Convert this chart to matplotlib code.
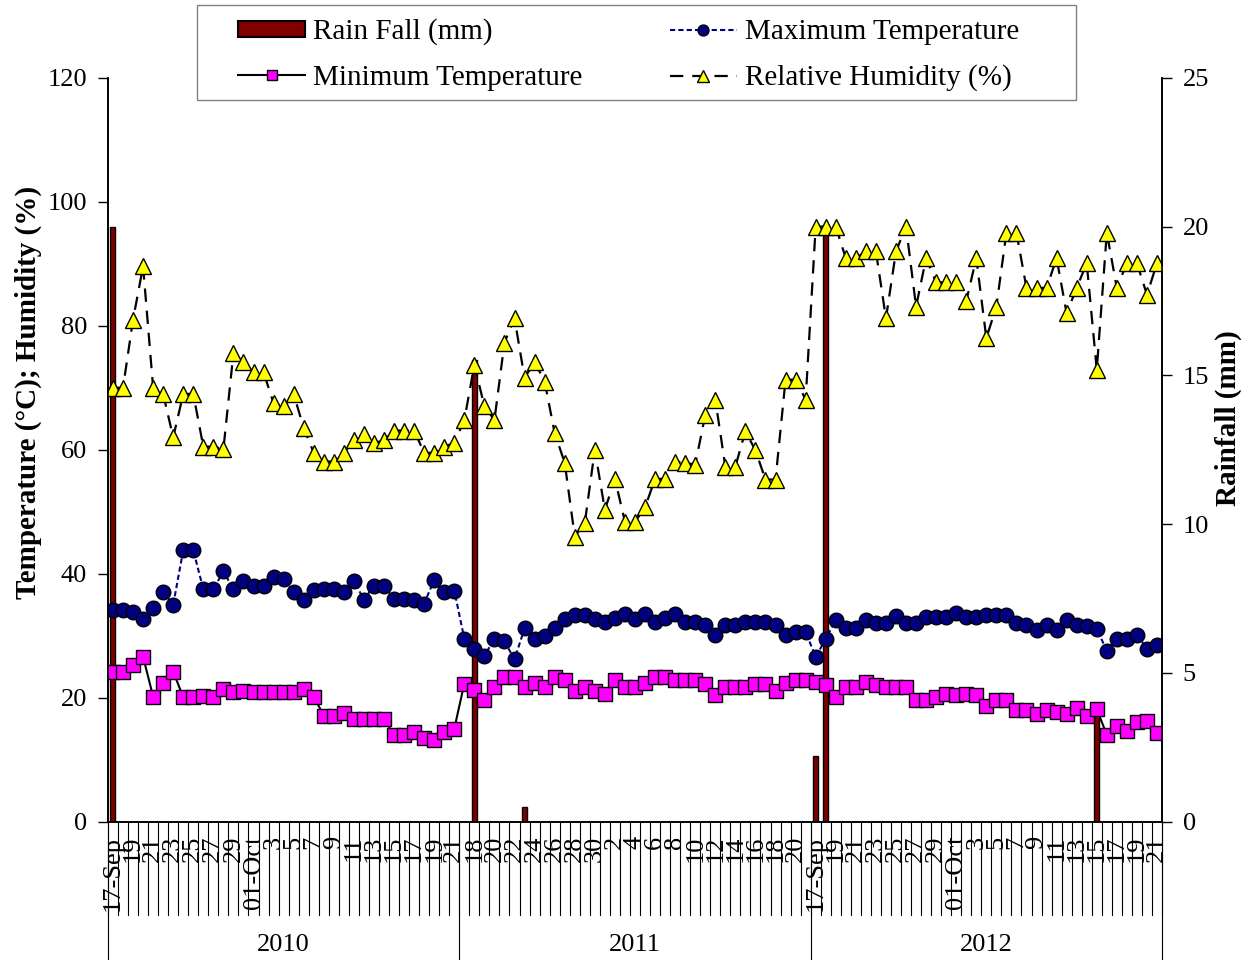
import numpy as np
import pandas as pd
import matplotlib
matplotlib.use('Agg')
import matplotlib.pyplot as plt
from matplotlib.patches import Patch, Rectangle

years = ['2010', '2011', '2012']

# daily weather, 17 Sep - 21 Oct of each year (35 days per year)
tmax = [34.2, 34.2, 33.8, 32.7, 34.4, 37.1, 35.0, 43.8, 43.8, 37.5, 37.5, 40.4, 37.5, 38.9, 38.0, 38.0, 39.5, 39.2,
        37.0, 35.8, 37.4, 37.5, 37.5, 37.1, 38.9, 35.8, 38.1, 38.1, 35.9, 35.9, 35.8, 35.2, 39.0, 37.0, 37.3,
        29.5, 27.9, 26.8, 29.5, 29.1, 26.2, 31.2, 29.5, 30.0, 31.2, 32.7, 33.4, 33.4, 32.7, 32.3, 32.8, 33.5, 32.7,
        33.5, 32.3, 32.8, 33.5, 32.3, 32.3, 31.8, 30.1, 31.8, 31.7, 32.3, 32.3, 32.3, 31.7, 30.1, 30.6, 30.6,
        26.6, 29.5, 32.6, 31.2, 31.2, 32.6, 32.0, 32.0, 33.2, 32.0, 32.0, 33.1, 33.1, 33.1, 33.7, 33.1, 33.1, 33.4,
        33.4, 33.4, 32.0, 31.7, 31.0, 31.7, 31.0, 32.6, 31.7, 31.5, 31.1, 27.6, 29.5, 29.5, 30.2, 27.9, 28.5]

tmin = [24.2, 24.2, 25.3, 26.6, 20.2, 22.4, 24.2, 20.1, 20.1, 20.3, 20.2, 21.4, 21.0, 21.1, 21.0, 21.0, 20.9, 20.9,
        20.9, 21.4, 20.2, 17.1, 17.1, 17.6, 16.6, 16.6, 16.6, 16.6, 14.0, 14.0, 14.4, 13.5, 13.2, 14.4, 15.0,
        22.3, 21.3, 19.6, 21.7, 23.3, 23.3, 21.7, 22.4, 21.7, 23.3, 22.9, 21.1, 21.7, 21.1, 20.6, 22.9, 21.7, 21.7,
        22.4, 23.3, 23.3, 22.9, 22.9, 22.9, 22.3, 20.5, 21.7, 21.7, 21.7, 22.3, 22.3, 21.1, 22.4, 22.9, 22.9,
        22.5, 22.1, 20.1, 21.7, 21.7, 22.6, 22.1, 21.7, 21.7, 21.7, 19.7, 19.6, 20.2, 20.6, 20.4, 20.6, 20.5, 18.6,
        19.6, 19.7, 18.0, 18.0, 17.4, 18.0, 17.7, 17.4, 18.3, 17.1, 18.2, 14.0, 15.5, 14.7, 16.1, 16.3, 14.3]

rh = [70.0, 70.0, 81.0, 89.6, 70.0, 69.0, 62.0, 69.0, 69.0, 60.5, 60.5, 60.1, 75.6, 74.1, 72.5, 72.5, 67.5, 67.0,
      69.0, 63.5, 59.5, 58.1, 58.1, 59.5, 61.5, 62.6, 61.1, 61.5, 63.1, 63.1, 63.1, 59.5, 59.5, 60.5, 61.1,
      64.8, 73.7, 67.0, 64.8, 77.3, 81.2, 71.6, 74.2, 71.0, 62.7, 57.9, 46.0, 48.2, 60.0, 50.3, 55.3, 48.4, 48.4,
      50.7, 55.3, 55.3, 58.1, 57.9, 57.6, 65.6, 68.1, 57.3, 57.3, 63.0, 59.9, 55.2, 55.2, 71.3, 71.3, 68.1,
      96.0, 96.0, 96.0, 90.9, 90.9, 92.0, 92.0, 81.2, 92.0, 96.0, 83.1, 90.9, 87.0, 87.0, 87.0, 84.0, 90.9, 78.0,
      83.1, 95.0, 95.0, 86.1, 86.1, 86.1, 90.9, 82.0, 86.1, 90.1, 72.9, 95.0, 86.1, 90.1, 90.1, 85.0, 90.1]

rain_2010 = [20.0] + [0] * 34
rain_2011 = [0, 15.5, 0, 0, 0, 0, 0.5] + [0] * 28
rain_2012 = [2.2, 20.0] + [0] * 26 + [3.8] + [0] * 6
rain = rain_2010 + rain_2011 + rain_2012

dates = [d for y in years for d in pd.date_range(y + '-09-17', y + '-10-21')]
n = len(dates)
x = np.arange(n) + 0.5


def day_label(d):
    if d.month == 9 and d.day == 17:
        return '17-Sep'
    if d.day == 1:
        return '01-Oct'
    return str(d.day)


plt.rcParams['font.family'] = 'Liberation Serif'

fig = plt.figure(figsize=(12.48, 9.6), dpi=100)
ax = fig.add_axes([0.0865, 0.144, 0.8446, 0.775])
ax2 = ax.twinx()
ax.set_zorder(ax2.get_zorder() + 1)
ax.patch.set_visible(False)

# rainfall bars on the right axis
ax2.bar(x, rain, width=0.5, color='#800000', edgecolor='black', linewidth=1)

l_tmax, = ax.plot(x, tmax, color='#000080', lw=1.5, ls=(0, (2.5, 1.5)),
                  marker='o', ms=10.5, mfc='#000080', mec='black', mew=1)
l_tmin, = ax.plot(x, tmin, color='black', lw=1.5, ls='-',
                  marker='s', ms=10.5, mfc='#ff00ff', mec='black', mew=1)
l_rh, = ax.plot(x, rh, color='black', lw=1.6, ls=(0, (6, 4)),
                marker='^', ms=11, mfc='#ffff00', mec='black', mew=1)

ax.set_xlim(0, n)
ax.set_ylim(0, 120)
ax.set_yticks(range(0, 121, 20))
ax2.set_ylim(0, 25)
ax2.set_yticks(range(0, 26, 5))

ax.set_xticks(x[::2])
ax.set_xticklabels([day_label(d) for d in dates[::2]], rotation=90, va='top')
ax.tick_params(axis='x', length=0, pad=10, labelsize=19)
ax.tick_params(axis='y', direction='out', length=7, width=1, labelsize=19, pad=8)
ax2.tick_params(axis='y', direction='out', length=7, width=1, labelsize=19, pad=8)

for a in (ax, ax2):
    a.spines['top'].set_visible(False)
    for s in a.spines.values():
        s.set_linewidth(1.2)

# category separators and year groups under the axis
trans = ax.get_xaxis_transform()
for k in range(n + 1):
    ax.plot([k, k], [0, -0.125], transform=trans, clip_on=False, color='black', lw=0.8)
days_per_year = n // len(years)
for j, y in enumerate(years):
    start = j * days_per_year
    ax.plot([start, start], [0, -0.2], transform=trans, clip_on=False, color='black', lw=0.8)
    ax.text(start + days_per_year / 2, -0.165, y, transform=trans, ha='center', va='center', fontsize=19)
ax.plot([n, n], [0, -0.2], transform=trans, clip_on=False, color='black', lw=0.8)

ax.set_ylabel('Temperature (°C); Humidity (%)', fontsize=21, fontweight='bold', labelpad=4)
ax2.set_ylabel('Rainfall (mm)', fontsize=21, fontweight='bold', labelpad=4)
ax.yaxis.label.set_y(0.577)
ax2.yaxis.label.set_y(0.543)

# legend box above the plot
fig.add_artist(Rectangle((0.158, 0.896), 0.704, 0.099, transform=fig.transFigure,
                         facecolor='white', edgecolor='#808080', linewidth=1, zorder=5))
handles = [Patch(facecolor='#800000', edgecolor='black', linewidth=1.5),
           l_tmin, l_tmax, l_rh]
labels = ['Rain Fall (mm)', 'Minimum Temperature', 'Maximum Temperature', 'Relative Humidity (%)']
leg = fig.legend(handles, labels, ncol=2, loc='upper left',
                 bbox_to_anchor=(0.1907, 0.9807), fontsize=21, frameon=False,
                 handlelength=2.3, handleheight=0.48, handletextpad=0.27,
                 columnspacing=3.0, markerscale=0.75, labelspacing=0.66,
                 borderpad=0, borderaxespad=0)
leg.set_zorder(6)

fig.savefig('out.png', dpi=100)
